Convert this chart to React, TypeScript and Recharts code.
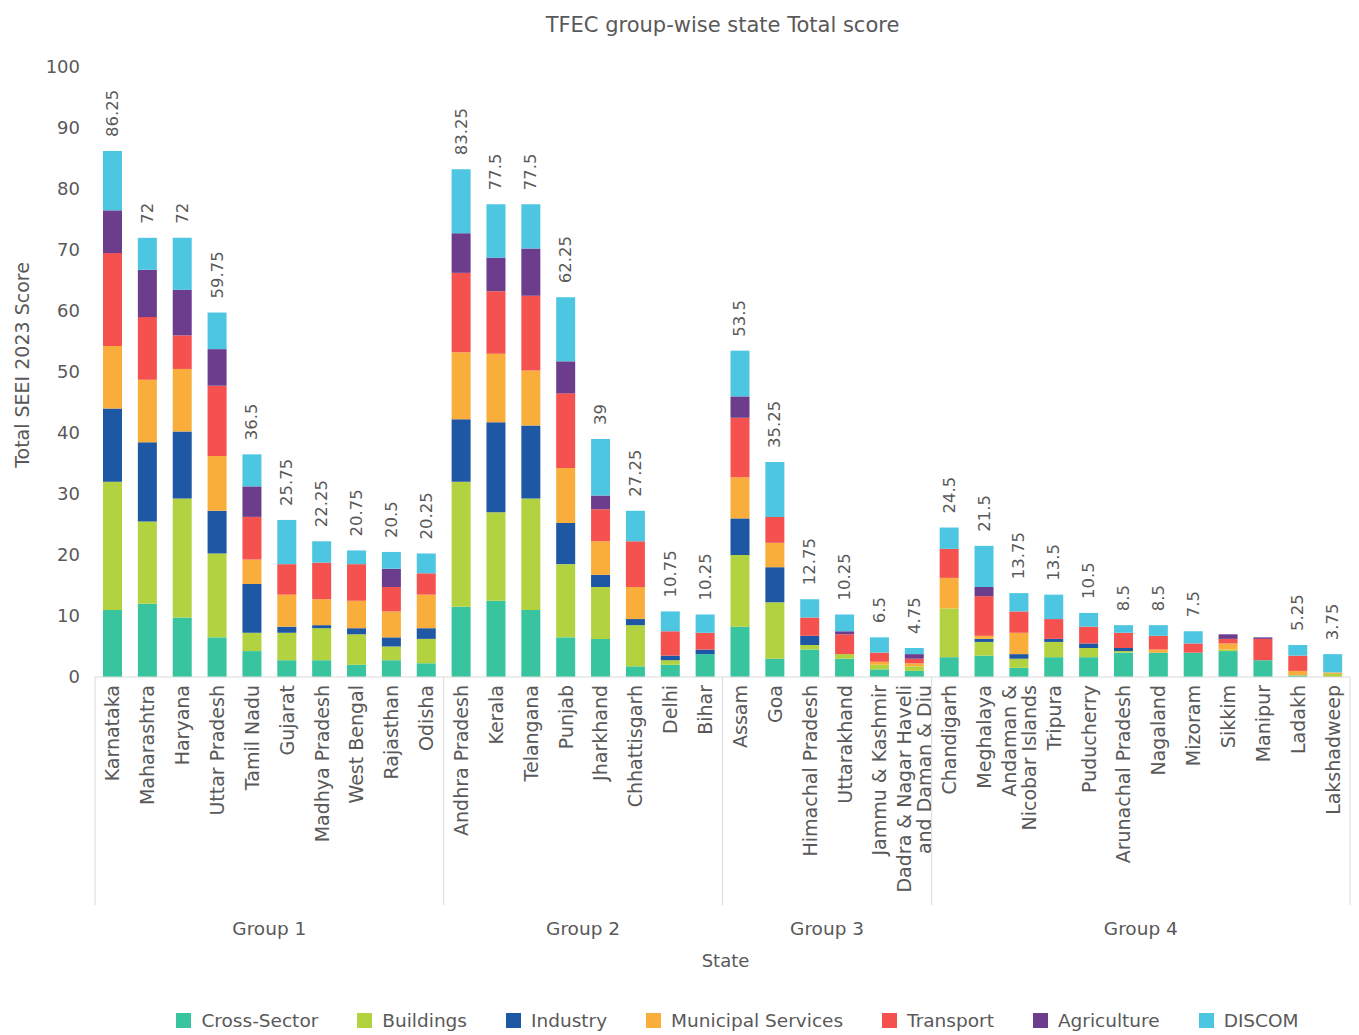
import React from 'react';
import { BarChart, Bar, XAxis, YAxis, Legend, LabelList } from 'recharts';

const states = [
  'Karnataka', 'Maharashtra', 'Haryana', 'Uttar Pradesh', 'Tamil Nadu', 'Gujarat', 'Madhya Pradesh', 'West Bengal', 'Rajasthan', 'Odisha',
  'Andhra Pradesh', 'Kerala', 'Telangana', 'Punjab', 'Jharkhand', 'Chhattisgarh', 'Delhi', 'Bihar',
  'Assam', 'Goa', 'Himachal Pradesh', 'Uttarakhand', 'Jammu & Kashmir', 'Dadra & Nagar Haveli\nand Daman & Diu',
  'Chandigarh', 'Meghalaya', 'Andaman &\nNicobar Islands', 'Tripura', 'Puducherry', 'Arunachal Pradesh', 'Nagaland', 'Mizoram', 'Sikkim', 'Manipur', 'Ladakh', 'Lakshadweep',
];

const groupNames = ['Group 1', 'Group 2', 'Group 3', 'Group 4'];
const groupSizes = [10, 8, 6, 12];

const totals = [
  86.25, 72, 72, 59.75, 36.5, 25.75, 22.25, 20.75, 20.5, 20.25,
  83.25, 77.5, 77.5, 62.25, 39, 27.25, 10.75, 10.25,
  53.5, 35.25, 12.75, 10.25, 6.5, 4.75,
  24.5, 21.5, 13.75, 13.5, 10.5, 8.5, 8.5, 7.5, 7, 6.5, 5.25, 3.75,
];

const crossSector = [
  11, 12, 9.75, 6.5, 4.25, 2.75, 2.75, 2, 2.75, 2.25,
  11.5, 12.5, 11, 6.5, 6.25, 1.75, 2, 3.75,
  8.25, 3, 4.5, 3, 1.25, 1,
  3.25, 3.5, 1.5, 3.25, 3.25, 4, 4, 4, 4.25, 2.75, 0.25, 0,
];
const buildings = [
  21, 13.5, 19.5, 13.75, 3, 4.5, 5.25, 5, 2.25, 4,
  20.5, 14.5, 18.25, 12, 8.5, 6.75, 0.75, 0,
  11.75, 9.25, 0.75, 0.75, 0.75, 0.75,
  8, 2.25, 1.5, 2.5, 1.5, 0.25, 0, 0, 0.25, 0, 0, 0.5,
];
const industry = [
  12, 13, 11, 7, 8, 1, 0.5, 1, 1.5, 1.75,
  10.25, 14.75, 12, 6.75, 2, 1, 0.75, 0.75,
  6, 5.75, 1.5, 0, 0, 0,
  0, 0.5, 0.75, 0.5, 0.75, 0.5, 0, 0, 0, 0, 0, 0,
];
const municipal = [
  10.25, 10.25, 10.25, 9, 4, 5.25, 4.25, 4.5, 4.25, 5.5,
  11, 11.25, 9, 9, 5.5, 5.25, 0, 0,
  6.75, 4, 0, 0, 0.5, 0.5,
  5, 0.5, 3.5, 0, 0, 0, 0.5, 0, 1, 0, 0.75, 0.25,
];
const transport = [
  15.25, 10.25, 5.5, 11.5, 7, 5, 6, 6, 4, 3.5,
  13, 10.25, 12.25, 12.25, 5.25, 7.5, 4, 2.75,
  9.75, 4.25, 3, 3.25, 1.5, 0.75,
  4.75, 6.5, 3.5, 3.25, 2.75, 2.5, 2.25, 1.5, 0.75, 3.5, 2.5, 0,
];
const agriculture = [
  7, 7.75, 7.5, 6, 5, 0, 0, 0, 3, 0,
  6.5, 5.5, 7.75, 5.25, 2.25, 0, 0, 0,
  3.5, 0, 0, 0.5, 0, 0.75,
  0, 1.5, 0, 0, 0, 0, 0, 0, 0.75, 0.25, 0, 0,
];
const discom = [
  9.75, 5.25, 8.5, 6, 5.25, 7.25, 3.5, 2.25, 2.75, 3.25,
  10.5, 8.75, 7.25, 10.5, 9.25, 5, 3.25, 3,
  7.5, 9, 3, 2.75, 2.5, 1,
  3.5, 6.75, 3, 4, 2.25, 1.25, 1.75, 2, 0, 0, 1.75, 3,
];

const seriesKeys = ['cs', 'bu', 'in', 'mu', 'tr', 'ag', 'di'];
const seriesNames = ['Cross-Sector', 'Buildings', 'Industry', 'Municipal Services', 'Transport', 'Agriculture', 'DISCOM'];
const seriesColors = ['#37C49E', '#B3D240', '#1E57A4', '#F9AE3B', '#F4514F', '#6B3D8C', '#4DC6E2'];
const seriesValues = [crossSector, buildings, industry, municipal, transport, agriculture, discom];

const data = states.map((s, i) => {
  const row: any = { state: s, total: totals[i] };
  seriesKeys.forEach((k, j) => { row[k] = seriesValues[j][i]; });
  return row;
});

const W = 1359;
const H = 1035;
const M = { top: 67, right: 9, left: 10, bottom: 0 };
const Y_W = 85;
const PLOT_W = W - M.left - M.right - Y_W;
const BAND = PLOT_W / states.length;
const FONT = '"DejaVu Sans", sans-serif';
const TXT = '#595959';

function StateTick(props: any) {
  const { x, y, payload, index } = props;
  const lines = String(payload.value).split('\n');
  const axisY = y - 8;
  const els: any[] = [];
  let start = 0;
  groupSizes.forEach((n, g) => {
    if (index === start) {
      const left = x - BAND / 2;
      els.push(<line key={'s' + g} x1={left} y1={axisY} x2={left} y2={axisY + 228} stroke="#d9d9d9" strokeWidth={1} />);
      els.push(
        <text key={'g' + g} x={left + (n * BAND) / 2} y={axisY + 251} textAnchor="middle" dominantBaseline="central"
          fontSize={18.5} fontFamily={FONT} fill={TXT}>{groupNames[g]}</text>
      );
    }
    if (g === groupSizes.length - 1 && index === start + n - 1) {
      const right = x + BAND / 2;
      els.push(<line key="sr" x1={right} y1={axisY} x2={right} y2={axisY + 228} stroke="#d9d9d9" strokeWidth={1} />);
    }
    start += n;
  });
  const lh = 1.05;
  return (
    <g>
      {els}
      <text transform={`rotate(-90 ${x} ${y})`} x={x} y={y} textAnchor="end" dominantBaseline="central"
        fontSize={19} fontFamily={FONT} fill={TXT}>
        {lines.map((l, i) => (
          <tspan key={i} x={x} dy={i === 0 ? `${(-(lines.length - 1) * lh) / 2}em` : `${lh}em`}>{l}</tspan>
        ))}
      </text>
    </g>
  );
}

function TotalLabel(props: any) {
  const { x, y, width, value } = props;
  const cx = Number(x) + Number(width) / 2;
  const cy = Number(y) - 14;
  return (
    <text transform={`rotate(-90 ${cx} ${cy})`} x={cx} y={cy} textAnchor="start" dominantBaseline="central"
      fontSize={16.5} fontFamily={FONT} fill={TXT}>{String(value)}</text>
  );
}

function LegendContent() {
  return (
    <div style={{ height: 30, display: 'flex', justifyContent: 'center', alignItems: 'center', paddingLeft: 115 }}>
      {seriesNames.map((n, i) => (
        <div key={n} style={{ display: 'flex', alignItems: 'center', marginRight: i === seriesNames.length - 1 ? 0 : 39 }}>
          <span style={{ width: 15, height: 15, background: seriesColors[i], display: 'inline-block', marginRight: 10 }} />
          <span style={{ fontFamily: FONT, fontSize: 18.5, color: TXT }}>{n}</span>
        </div>
      ))}
    </div>
  );
}

export default function App() {
  return (
    <div style={{ position: 'absolute', left: 0, top: 0, width: W, height: H, background: '#fff' }}>
      <div style={{ position: 'absolute', left: M.left + Y_W, width: PLOT_W, top: 12, textAlign: 'center', fontFamily: FONT, fontSize: 21, lineHeight: '26px', color: TXT }}>
        TFEC group-wise state Total score
      </div>
      <BarChart width={W} height={H} data={data} margin={M} barSize={19}>
        <YAxis
          width={Y_W}
          domain={[0, 100]}
          ticks={[0, 10, 20, 30, 40, 50, 60, 70, 80, 90, 100]}
          axisLine={false}
          tickLine={false}
          tickSize={0}
          tickMargin={15}
          tick={{ fontSize: 18, fontFamily: FONT, fill: TXT }}
          label={(p: any) => {
            const vb = p.viewBox || {};
            const cx = vb.x + 12;
            const cy = vb.y + vb.height / 2 - 7;
            return (
              <text transform={`rotate(-90 ${cx} ${cy})`} x={cx} y={cy} textAnchor="middle" dominantBaseline="central"
                fontSize={19} fontFamily={FONT} fill={TXT}>Total SEEI 2023  Score</text>
            );
          }}
        />
        <XAxis
          dataKey="state"
          interval={0}
          height={328}
          tickLine={false}
          tickSize={0}
          tickMargin={8}
          axisLine={{ stroke: '#d9d9d9' }}
          tick={<StateTick />}
          label={(p: any) => {
            const vb = p.viewBox || {};
            return (
              <text x={vb.x + vb.width / 2 + 3} y={vb.y + 283} textAnchor="middle" dominantBaseline="central"
                fontSize={18} fontFamily={FONT} fill={TXT}>State</text>
            );
          }}
        />
        <Legend verticalAlign="bottom" content={<LegendContent />} wrapperStyle={{ height: 30 }} />
        {seriesKeys.map((k, i) => (
          <Bar key={k} dataKey={k} name={seriesNames[i]} stackId="a" fill={seriesColors[i]} isAnimationActive={false}>
            {k === 'di' ? <LabelList dataKey="total" content={<TotalLabel />} /> : null}
          </Bar>
        ))}
      </BarChart>
    </div>
  );
}
